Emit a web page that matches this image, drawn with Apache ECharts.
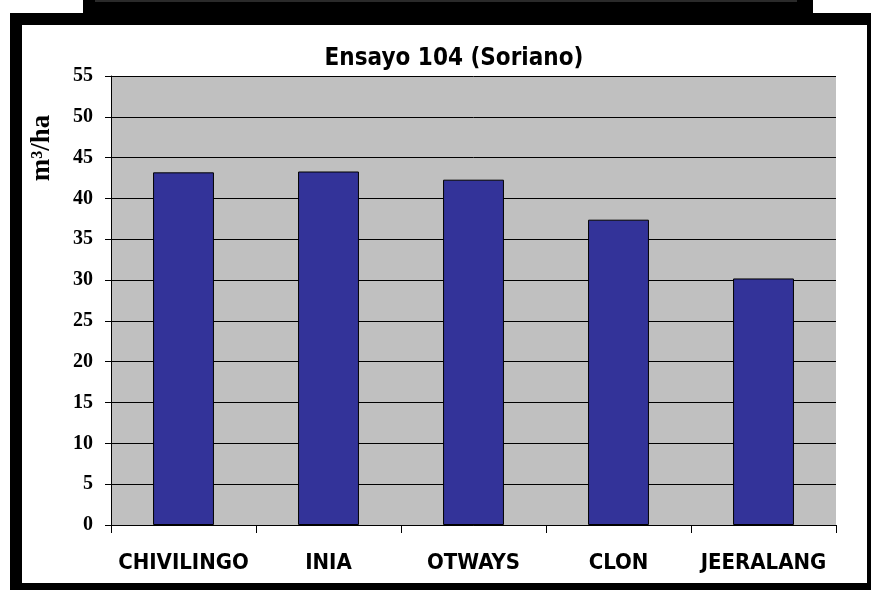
<!DOCTYPE html>
<html>
<head>
<meta charset="utf-8">
<script src="https://cdn.jsdelivr.net/npm/echarts@6/dist/echarts.min.js"></script>
<style>
  html, body { margin: 0; padding: 0; background: #ffffff; }
  #chart { width: 871px; height: 590px; }
</style>
</head>
<body>
<div id="chart"></div>
<script>
// Volume per hectare by clone, trial 104 (Soriano)
const categories = ['CHIVILINGO', 'INIA', 'OTWAYS', 'CLON', 'JEERALANG'];
const volumes = [43.2, 43.3, 42.3, 37.4, 30.2];
const yTicks = { min: 0, max: 55, interval: 5 };
const titleText = 'Ensayo 104 (Soriano)';
const yName = 'm³/ha';

const sansNarrow = '"Liberation Sans Narrow", "Arial Narrow", "DejaVu Sans Condensed", Arial, sans-serif';
const serif = '"Liberation Serif", "Times New Roman", serif';

const chart = echarts.init(document.getElementById('chart'), null, { renderer: 'canvas' });

chart.setOption({
  backgroundColor: 'transparent',
  animation: false,
  title: {
    text: titleText,
    left: 449,
    top: 42,
    textAlign: 'center',
    textStyle: { fontFamily: sansNarrow, fontWeight: 'bold', fontSize: 24, color: '#000' }
  },
  graphic: [
    // outer dark frame
    { type: 'rect', z: -10, silent: true, shape: { x: 83, y: 0, width: 730, height: 14 }, style: { fill: '#000' } },
    { type: 'line', z: -9, silent: true, shape: { x1: 95, y1: 1, x2: 797, y2: 1 }, style: { stroke: '#555', lineWidth: 1 } },
    { type: 'rect', z: -10, silent: true, shape: { x: 10, y: 13, width: 861, height: 577 }, style: { fill: '#000' } },
    { type: 'rect', z: -9, silent: true, shape: { x: 22, y: 25, width: 845, height: 558 }, style: { fill: '#fff' } },
    // rotated axis title
    {
      type: 'text', z: 5, silent: true,
      x: 42, y: 148, rotation: Math.PI / 2,
      style: {
        text: yName, fontFamily: serif, fontWeight: 'bold', fontSize: 27,
        fill: '#000', align: 'center', verticalAlign: 'middle'
      }
    }
  ],
  grid: {
    left: 111, right: 35, top: 76, bottom: 65,
    show: true, backgroundColor: '#c0c0c0', borderWidth: 0
  },
  xAxis: {
    type: 'category',
    data: categories,
    z: 2,
    axisLine: { show: true, lineStyle: { color: '#000', width: 1 } },
    axisTick: { show: true, alignWithLabel: false, interval: 0, length: 8, lineStyle: { color: '#000', width: 1 } },
    axisLabel: {
      interval: 0, margin: 27, color: '#000', fontFamily: sansNarrow, fontWeight: 'bold', fontSize: 22
    },
    splitLine: { show: false }
  },
  yAxis: {
    type: 'value',
    z: 2,
    min: yTicks.min, max: yTicks.max, interval: yTicks.interval,
    axisLine: { show: true, lineStyle: { color: '#000', width: 1 } },
    axisTick: { show: true, length: 6, lineStyle: { color: '#000', width: 1 } },
    axisLabel: {
      margin: 18, color: '#000', fontFamily: serif, fontWeight: 'bold', fontSize: 20
    },
    splitLine: { show: true, lineStyle: { color: '#000', width: 1 } }
  },
  series: [{
    type: 'bar',
    data: volumes,
    barWidth: '42%',
    itemStyle: { color: '#333399', borderColor: '#000', borderWidth: 1 },
    z: 3
  }]
});
</script>
</body>
</html>
